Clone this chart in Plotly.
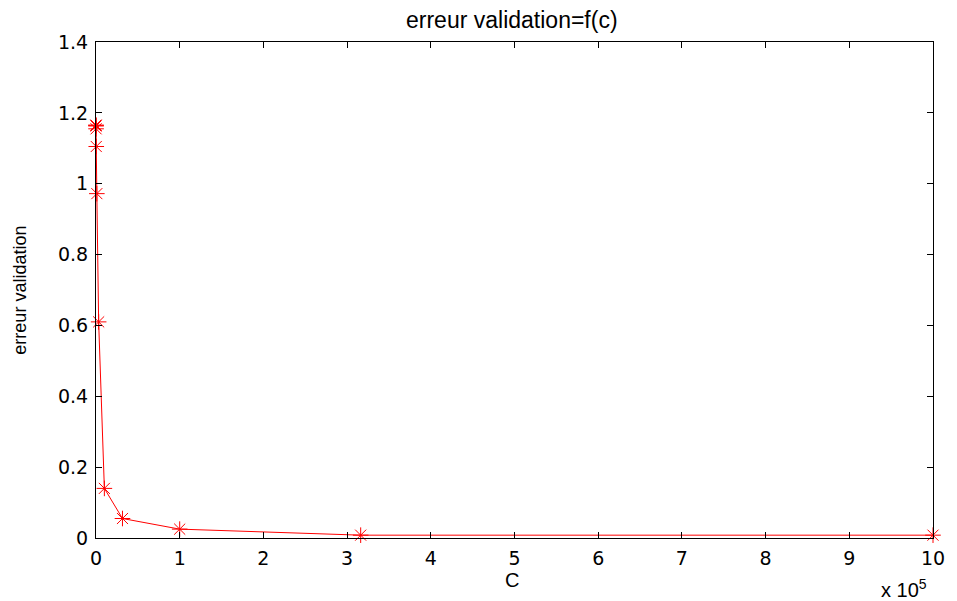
import plotly.graph_objects as go

C_values = [3.162, 10, 31.62, 100, 316.2, 1000, 3162, 10000, 31623, 100000, 316228, 1000000]
erreur = [1.165, 1.165, 1.163, 1.155, 1.105, 0.972, 0.61, 0.14, 0.055, 0.025, 0.008, 0.008]
x_ticks = [0, 1, 2, 3, 4, 5, 6, 7, 8, 9, 10]
y_ticks = [0, 0.2, 0.4, 0.6, 0.8, 1, 1.2, 1.4]
y_tick_text = ["0", "0.2", "0.4", "0.6", "0.8", "1", "1.2", "1.4"]

font = "Liberation Sans, Arial, sans-serif"
tick_font = "DejaVu Sans, sans-serif"

fig = go.Figure()
fig.add_trace(go.Scatter(
    x=C_values, y=erreur, mode="lines+markers",
    line=dict(color="#ff0000", width=1),
    marker=dict(symbol="asterisk-open", size=13, color="#ff0000",
                line=dict(color="#ff0000", width=1)),
    cliponaxis=False, showlegend=False,
))

axis_common = dict(
    showgrid=False, zeroline=False, showline=True, linecolor="black", linewidth=1,
    mirror="ticks", ticks="inside", ticklen=6, tickcolor="black",
    tickfont=dict(family=tick_font, size=19, color="black"),
)
fig.update_xaxes(
    range=[0, 1e6], tickvals=[t * 1e5 for t in x_ticks], ticktext=[str(t) for t in x_ticks],
    ticklabelstandoff=3, **axis_common,
)
fig.update_yaxes(
    range=[0, 1.4], tickvals=y_ticks, ticktext=y_tick_text,
    ticklabelstandoff=3, **axis_common,
)

# plot area spans page px 96..940 x 42..538
def px_x(px):
    return (px - 96) / 844

def px_y(py):
    return (538 - py) / 496

fig.add_annotation(text="erreur validation=f(c)", xref="paper", yref="paper",
                   x=px_x(515), y=px_y(20), xanchor="center", yanchor="middle", showarrow=False,
                   font=dict(family=font, size=23, color="black"))
fig.add_annotation(text="erreur validation", xref="paper", yref="paper", textangle=-90,
                   x=px_x(19), y=px_y(290), xanchor="center", yanchor="middle", showarrow=False,
                   font=dict(family=font, size=18, color="black"))
fig.add_annotation(text="C", xref="paper", yref="paper",
                   x=px_x(515), y=px_y(580), xanchor="center", yanchor="middle", showarrow=False,
                   font=dict(family=font, size=20, color="black"))
fig.add_annotation(text="x 10<sup>5</sup>", xref="paper", yref="paper",
                   x=px_x(911), y=px_y(588), xanchor="center", yanchor="middle", showarrow=False,
                   font=dict(family=font, size=20, color="black"))

fig.update_layout(
    width=957, height=601,
    margin=dict(l=96, r=17, t=42, b=63),
    paper_bgcolor="white", plot_bgcolor="white",
)
fig.write_html(
    "out.html",
    config={"displayModeBar": False},
    post_script="document.body.style.margin='0';document.body.style.overflow='hidden';"
                "document.documentElement.style.overflow='hidden';",
)
